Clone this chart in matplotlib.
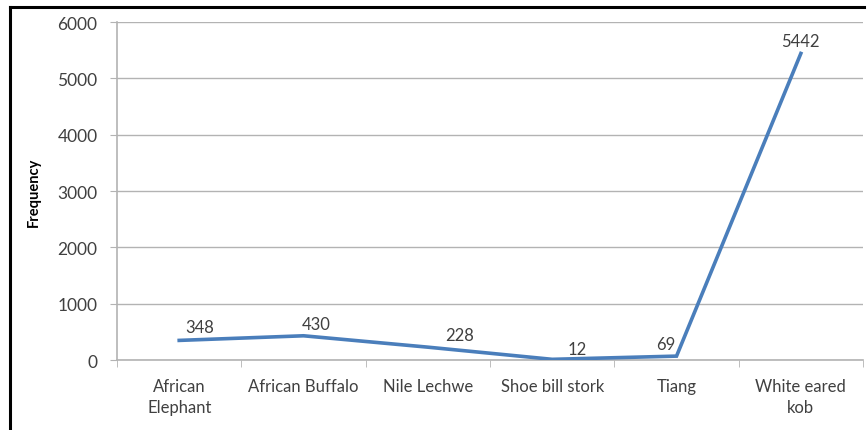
import matplotlib
matplotlib.use('Agg')
import matplotlib.pyplot as plt
from matplotlib.lines import Line2D
from matplotlib.ticker import FixedLocator

# data
species = ["African\nElephant", "African Buffalo", "Nile Lechwe",
           "Shoe bill stork", "Tiang", "White eared\nkob"]
frequency = [348, 430, 228, 12, 69, 5442]

# label nudges (points), roughly how Excel placed them
label_dx = [15, 9, 23, 18, -8, 0]
label_dy = [4, 3, 3, 2, 3, 3]

plt.rcParams['font.family'] = ['Lato', 'DejaVu Sans']
text_col = "#404040"
grid_col = "#b3b3b3"
line_col = "#4a7ebb"

fig = plt.figure(figsize=(8.67, 4.31), dpi=100)
ax = fig.add_axes([0.135, 0.1624, 0.8604, 0.7842])

x = list(range(len(species)))
ax.plot(x, frequency, color=line_col, lw=2.6, solid_joinstyle='miter', zorder=3)

for xi, v, dx, dy in zip(x, frequency, label_dx, label_dy):
    ax.annotate(str(v), (xi, v), xytext=(dx, dy), textcoords='offset points',
                ha='center', va='bottom', fontsize=12, color=text_col)

ax.set_xlim(-0.5, len(species) - 0.5)
ax.set_ylim(0, 6000)
ax.set_yticks(range(0, 6001, 1000))
ax.yaxis.grid(True, color=grid_col, lw=1)
ax.set_axisbelow(True)

ax.set_xticks(x)
ax.set_xticklabels(species, fontsize=12, color=text_col, linespacing=1.35)
ax.xaxis.set_minor_locator(FixedLocator([i - 0.5 for i in range(len(species) + 1)]))
ax.tick_params(axis='x', which='major', length=0, pad=13)
ax.tick_params(axis='x', which='minor', length=5, color=grid_col, direction='out')
ax.tick_params(axis='y', length=5, color=grid_col, labelsize=12.5,
               labelcolor=text_col, pad=9)

for s in ['top', 'right']:
    ax.spines[s].set_visible(False)
for s in ['left', 'bottom']:
    ax.spines[s].set_color(grid_col)
    ax.spines[s].set_linewidth(1.2)

ax.set_ylabel("Frequency", fontsize=10.5, fontweight='bold', color='black', labelpad=12)

# outer black frame (only left and top visible in the original crop)
fig.add_artist(Line2D([0.0115, 0.0115], [0, 0.9814], color='black', lw=2.2,
                      transform=fig.transFigure))
fig.add_artist(Line2D([0.0115, 0.996], [0.9814, 0.9814], color='black', lw=2.2,
                      transform=fig.transFigure))

fig.savefig("out.png", dpi=100)
